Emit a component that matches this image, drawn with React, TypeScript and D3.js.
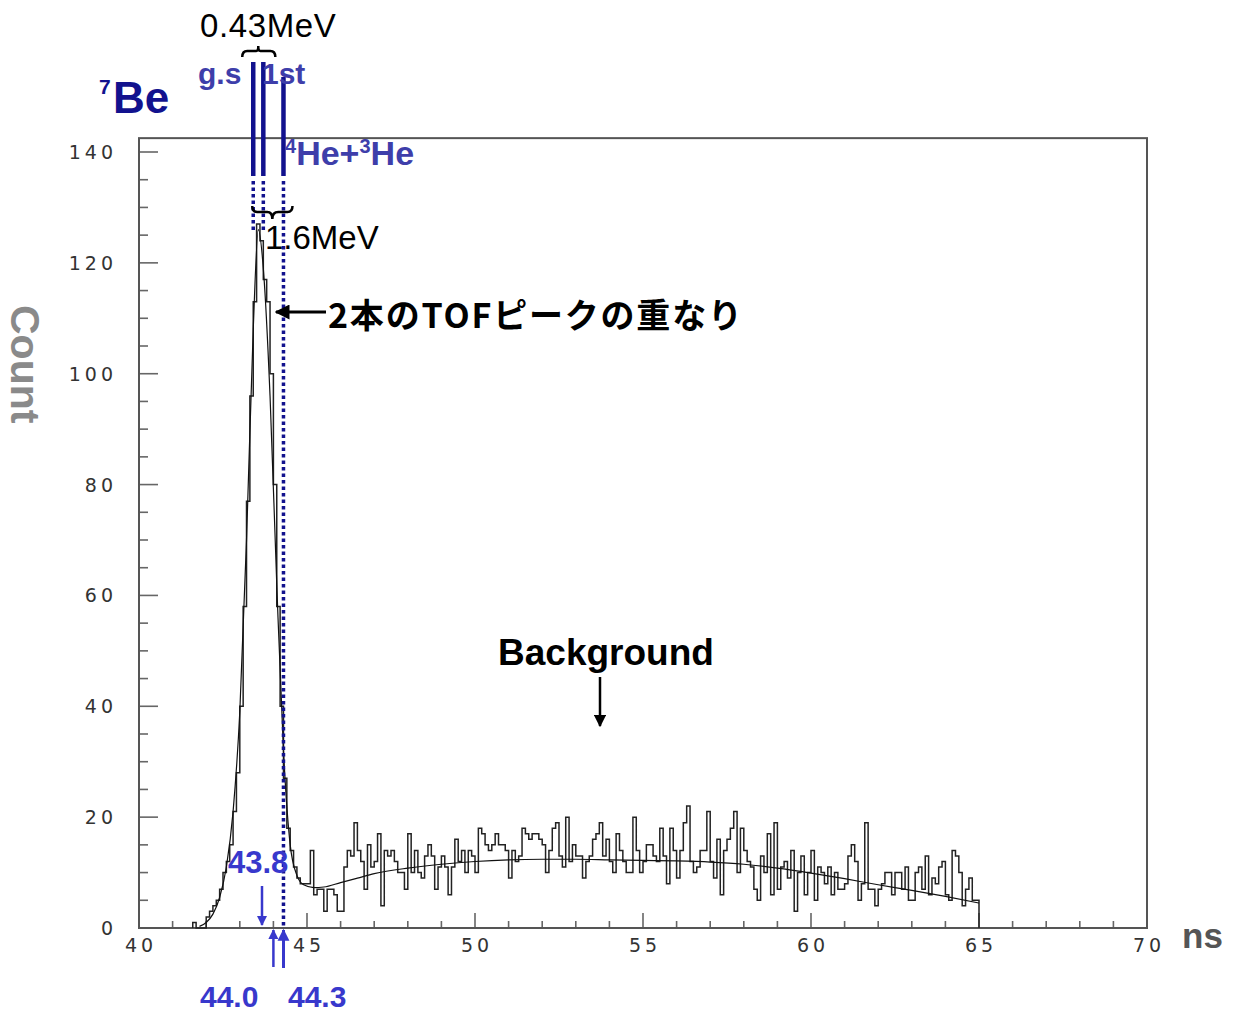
import React from 'react';
import * as d3 from 'd3';

// Histogram: TOF spectrum, 0.1 ns bins starting at 41.6 ns
const BIN_START = 41.6;
const BIN_WIDTH = 0.1;
// 41.6 – 44.4 ns (peak)
const peakCounts = [1, 0, 0, 0, 2, 3, 4, 5, 7, 10, 12, 15, 21, 28, 40, 58, 77, 96, 113, 127, 124, 117, 113, 100, 80, 58, 40, 27];
// 44.4 – 49.6 ns
const bgCounts1 = [18, 14, 11, 9, 8, 8, 8, 14, 6, 7, 7, 3, 7, 7, 6, 3, 3, 11, 14, 13, 19, 14, 12, 7, 15, 11, 12, 17, 4, 14, 13, 14, 12, 10, 10, 7, 17, 10, 14, 10, 9, 13, 15, 13, 7, 11, 13, 11, 6, 11, 16, 12];
// 49.6 – 54.4 ns
const bgCounts2 = [14, 10, 14, 13, 10, 18, 17, 15, 14, 15, 17, 15, 15, 14, 9, 14, 12, 13, 18, 17, 16, 17, 17, 16, 15, 10, 14, 18, 19, 13, 11, 20, 12, 15, 13, 13, 9, 12, 13, 16, 17, 19, 13, 16, 12, 10, 17, 14];
// 54.4 – 59.4 ns
const bgCounts3 = [12, 10, 10, 20, 14, 10, 12, 15, 15, 13, 12, 18, 13, 8, 18, 14, 9, 14, 19, 22, 12, 10, 11, 14, 14, 21, 12, 9, 16, 6, 14, 16, 18, 21, 10, 18, 14, 12, 11, 7, 5, 13, 10, 17, 6, 19, 7, 11, 12, 9];
// 59.4 – 65.0 ns
const bgCounts4 = [14, 3, 10, 13, 6, 10, 14, 5, 11, 10, 8, 11, 6, 10, 7, 7, 8, 13, 15, 12, 5, 8, 19, 7, 7, 4, 7, 8, 10, 10, 6, 10, 10, 7, 11, 5, 5, 10, 11, 7, 13, 6, 9, 8, 11, 12, 6, 5, 14, 13, 10, 4, 7, 9, 5, 5];

// Fit curve (Gaussian + background)
const fitX = [41.8, 42.0, 42.2, 42.4, 42.6, 42.8, 43.0, 43.2, 43.4, 43.55, 43.7, 43.9, 44.1, 44.3, 44.5, 44.7, 44.9, 45.2, 45.5, 46.0, 46.5, 47.0, 48.0, 49.0, 50.0, 51.0, 52.0, 53.0, 54.0, 55.0, 56.0, 57.0, 58.0, 59.0, 60.0, 61.0, 62.0, 63.0, 64.0, 65.0];
const fitY = [0.3, 1, 2.5, 5.5, 11, 21, 39, 70, 108, 126, 119, 96, 62, 32, 15, 9.5, 7.8, 7.3, 7.4, 8.2, 9.0, 9.8, 10.8, 11.5, 12.0, 12.3, 12.4, 12.4, 12.3, 12.2, 12.1, 11.9, 11.5, 10.8, 9.9, 8.9, 7.8, 6.8, 5.7, 4.5];

const xTickLabels = [40, 45, 50, 55, 60, 65, 70];
const yTickLabels = [0, 20, 40, 60, 80, 100, 120, 140];

// Annotation positions (ns)
const gsNs = 43.4;
const firstNs = 43.7;
const heNs = 44.3;

export default function App() {
  const W = 1237;
  const H = 1015;
  const x = d3.scaleLinear().domain([40, 70]).range([139, 1147]);
  const y = d3.scaleLinear().domain([0, 140]).range([928, 152]);
  const frameTop = y(142.5);

  const counts = [...peakCounts, ...bgCounts1, ...bgCounts2, ...bgCounts3, ...bgCounts4];
  let hist = `M${x(BIN_START)},${y(0)}`;
  counts.forEach((c, i) => {
    const x1 = x(BIN_START + (i + 1) * BIN_WIDTH);
    hist += `V${y(c)}H${x1}`;
  });
  hist += `V${y(0)}`;

  const fitPts: [number, number][] = fitX.map((v, i) => [v, fitY[i]]);
  const fitLine = d3
    .line<[number, number]>()
    .x((d) => x(d[0]))
    .y((d) => y(d[1]))
    .curve(d3.curveMonotoneX)(fitPts) as string;

  const xMinor = d3.range(40, 71, 1);
  const yMinor = d3.range(0, 141, 5);

  const navy = '#12128e';
  const slate = '#3e3eaa';
  const bright = '#3838cc';
  const sans = '"Liberation Sans", Arial, sans-serif';
  const tickFont = '"DejaVu Sans", sans-serif';

  const xg = x(gsNs);
  const xf = x(firstNs);
  const xh = x(heNs);

  return (
    <svg
      width={W}
      height={H}
      style={{ position: 'absolute', left: 0, top: 0, background: '#fff' }}
      fontFamily={sans}
    >
      <defs>
        <marker id="ahBlack" viewBox="0 0 10 10" refX="9" refY="5" markerWidth="5" markerHeight="5" orient="auto-start-reverse">
          <path d="M0,0 L10,5 L0,10 z" fill="#000" />
        </marker>
        <marker id="ahBlue" viewBox="0 0 10 10" refX="9" refY="5" markerWidth="4" markerHeight="5" orient="auto-start-reverse">
          <path d="M0,0 L10,5 L0,10 z" fill={bright} />
        </marker>
      </defs>

      {/* ticks */}
      {xMinor.map((t) => (
        <line
          key={'xt' + t}
          x1={x(t)}
          x2={x(t)}
          y1={y(0)}
          y2={y(0) - (t % 5 === 0 ? 15 : 7)}
          stroke="#666"
          strokeWidth={1.6}
        />
      ))}
      {yMinor.map((t) => (
        <line
          key={'yt' + t}
          x1={x(40)}
          x2={x(40) + (t % 20 === 0 ? 19 : 9)}
          y1={y(t)}
          y2={y(t)}
          stroke="#666"
          strokeWidth={1.6}
        />
      ))}

      {/* frame */}
      <rect x={x(40)} y={frameTop} width={x(70) - x(40)} height={y(0) - frameTop} fill="none" stroke="#555" strokeWidth={2} />

      {/* tick labels */}
      {xTickLabels.map((t) => (
        <text key={'xl' + t} x={x(t) + 2} y={952} textAnchor="middle" fontSize={19} letterSpacing={4} fill="#333" fontFamily={tickFont}>
          {t}
        </text>
      ))}
      {yTickLabels.map((t) => (
        <text key={'yl' + t} x={117} y={y(t) + 7} textAnchor="end" fontSize={19} letterSpacing={4} fill="#333" fontFamily={tickFont}>
          {t}
        </text>
      ))}

      {/* axis titles */}
      <text transform="translate(11,305) rotate(90)" fontSize={41} fontWeight="bold" fill="#8a8a8a">
        Count
      </text>
      <text x={1182} y={948} fontSize={35} fontWeight="bold" fill="#555">
        ns
      </text>

      {/* histogram and fit */}
      <path d={hist} fill="none" stroke="#222" strokeWidth={1.5} />
      <path d={fitLine} fill="none" stroke="#111" strokeWidth={1.2} />

      {/* vertical markers */}
      <line x1={xg} x2={xg} y1={62} y2={176} stroke={navy} strokeWidth={4.5} />
      <line x1={xf} x2={xf} y1={62} y2={176} stroke={navy} strokeWidth={4.5} />
      <line x1={xh} x2={xh} y1={77} y2={176} stroke={navy} strokeWidth={4.5} />
      <line x1={xg} x2={xg} y1={181} y2={232} stroke={navy} strokeWidth={3.5} strokeDasharray="3.5 3" />
      <line x1={xf} x2={xf} y1={181} y2={232} stroke={navy} strokeWidth={3.5} strokeDasharray="3.5 3" />
      <line x1={xh} x2={xh} y1={181} y2={926} stroke={navy} strokeWidth={3.5} strokeDasharray="3.5 3" />

      {/* top brace 0.43MeV */}
      <path
        d={`M${xg - 11},57 Q${xg - 11},51 ${xg - 6},51 L${xg + 3},51 Q${(xg + xf) / 2},51 ${(xg + xf) / 2},46 Q${(xg + xf) / 2},51 ${xf - 3},51 L${xf + 7},51 Q${xf + 12},51 ${xf + 12},57`}
        fill="none"
        stroke="#000"
        strokeWidth={2.5}
      />
      <text x={200} y={37} fontSize={33} letterSpacing={0.6} fill="#000">
        0.43MeV
      </text>

      {/* bottom brace 1.6MeV */}
      <path
        d={`M${xg - 1},206 Q${xg - 1},212 ${xg + 4},212 L${xg + 14},212 Q${xf + 9},212 ${xf + 9},219 Q${xf + 9},212 ${xf + 15},212 L${xh + 4},212 Q${xh + 9},212 ${xh + 9},206`}
        fill="none"
        stroke="#000"
        strokeWidth={2.5}
      />
      <text x={265} y={249} fontSize={33} fill="#000">
        1.6MeV
      </text>

      {/* 7Be */}
      <text x={99} y={94} fontSize={21} fontWeight="bold" fill={navy}>
        7
      </text>
      <text x={113} y={113} fontSize={44} fontWeight="bold" fill={navy}>
        Be
      </text>
      <text x={198} y={84} fontSize={30} fontWeight="bold" fill={slate}>
        g.s
      </text>
      <text x={262} y={84} fontSize={30} fontWeight="bold" fill={slate}>
        1st
      </text>
      <text x={285} y={165} fontSize={34} fontWeight="bold" fill={slate}>
        <tspan fontSize={20} dy={-12}>4</tspan>
        <tspan dy={12}>He+</tspan>
        <tspan fontSize={20} dy={-12}>3</tspan>
        <tspan dy={12}>He</tspan>
      </text>

      {/* overlap arrow */}
      <line x1={326} x2={276} y1={312} y2={312} stroke="#000" strokeWidth={3} markerEnd="url(#ahBlack)" />
      <text x={328} y={328} fontSize={34} fontWeight="bold" letterSpacing={1.8} fill="#000" fontFamily='"Noto Sans CJK JP", sans-serif'>
        2本のTOFピークの重なり
      </text>

      {/* background */}
      <text x={498} y={665} fontSize={37} fontWeight="bold" fill="#000">
        Background
      </text>
      <line x1={600} x2={600} y1={677} y2={726} stroke="#000" strokeWidth={2.5} markerEnd="url(#ahBlack)" />

      {/* bottom blue labels */}
      <text x={228} y={873} fontSize={31} fontWeight="bold" fill={bright}>
        43.8
      </text>
      <line x1={262} x2={262} y1={886} y2={925} stroke={bright} strokeWidth={2.5} markerEnd="url(#ahBlue)" />
      <line x1={x(44.0)} x2={x(44.0)} y1={967} y2={930} stroke={bright} strokeWidth={2.5} markerEnd="url(#ahBlue)" />
      <line x1={xh} x2={xh} y1={968} y2={930} stroke={bright} strokeWidth={3} markerEnd="url(#ahBlue)" />
      <text x={200} y={1007} fontSize={30} fontWeight="bold" fill={bright}>
        44.0
      </text>
      <text x={288} y={1007} fontSize={30} fontWeight="bold" fill={bright}>
        44.3
      </text>
    </svg>
  );
}
